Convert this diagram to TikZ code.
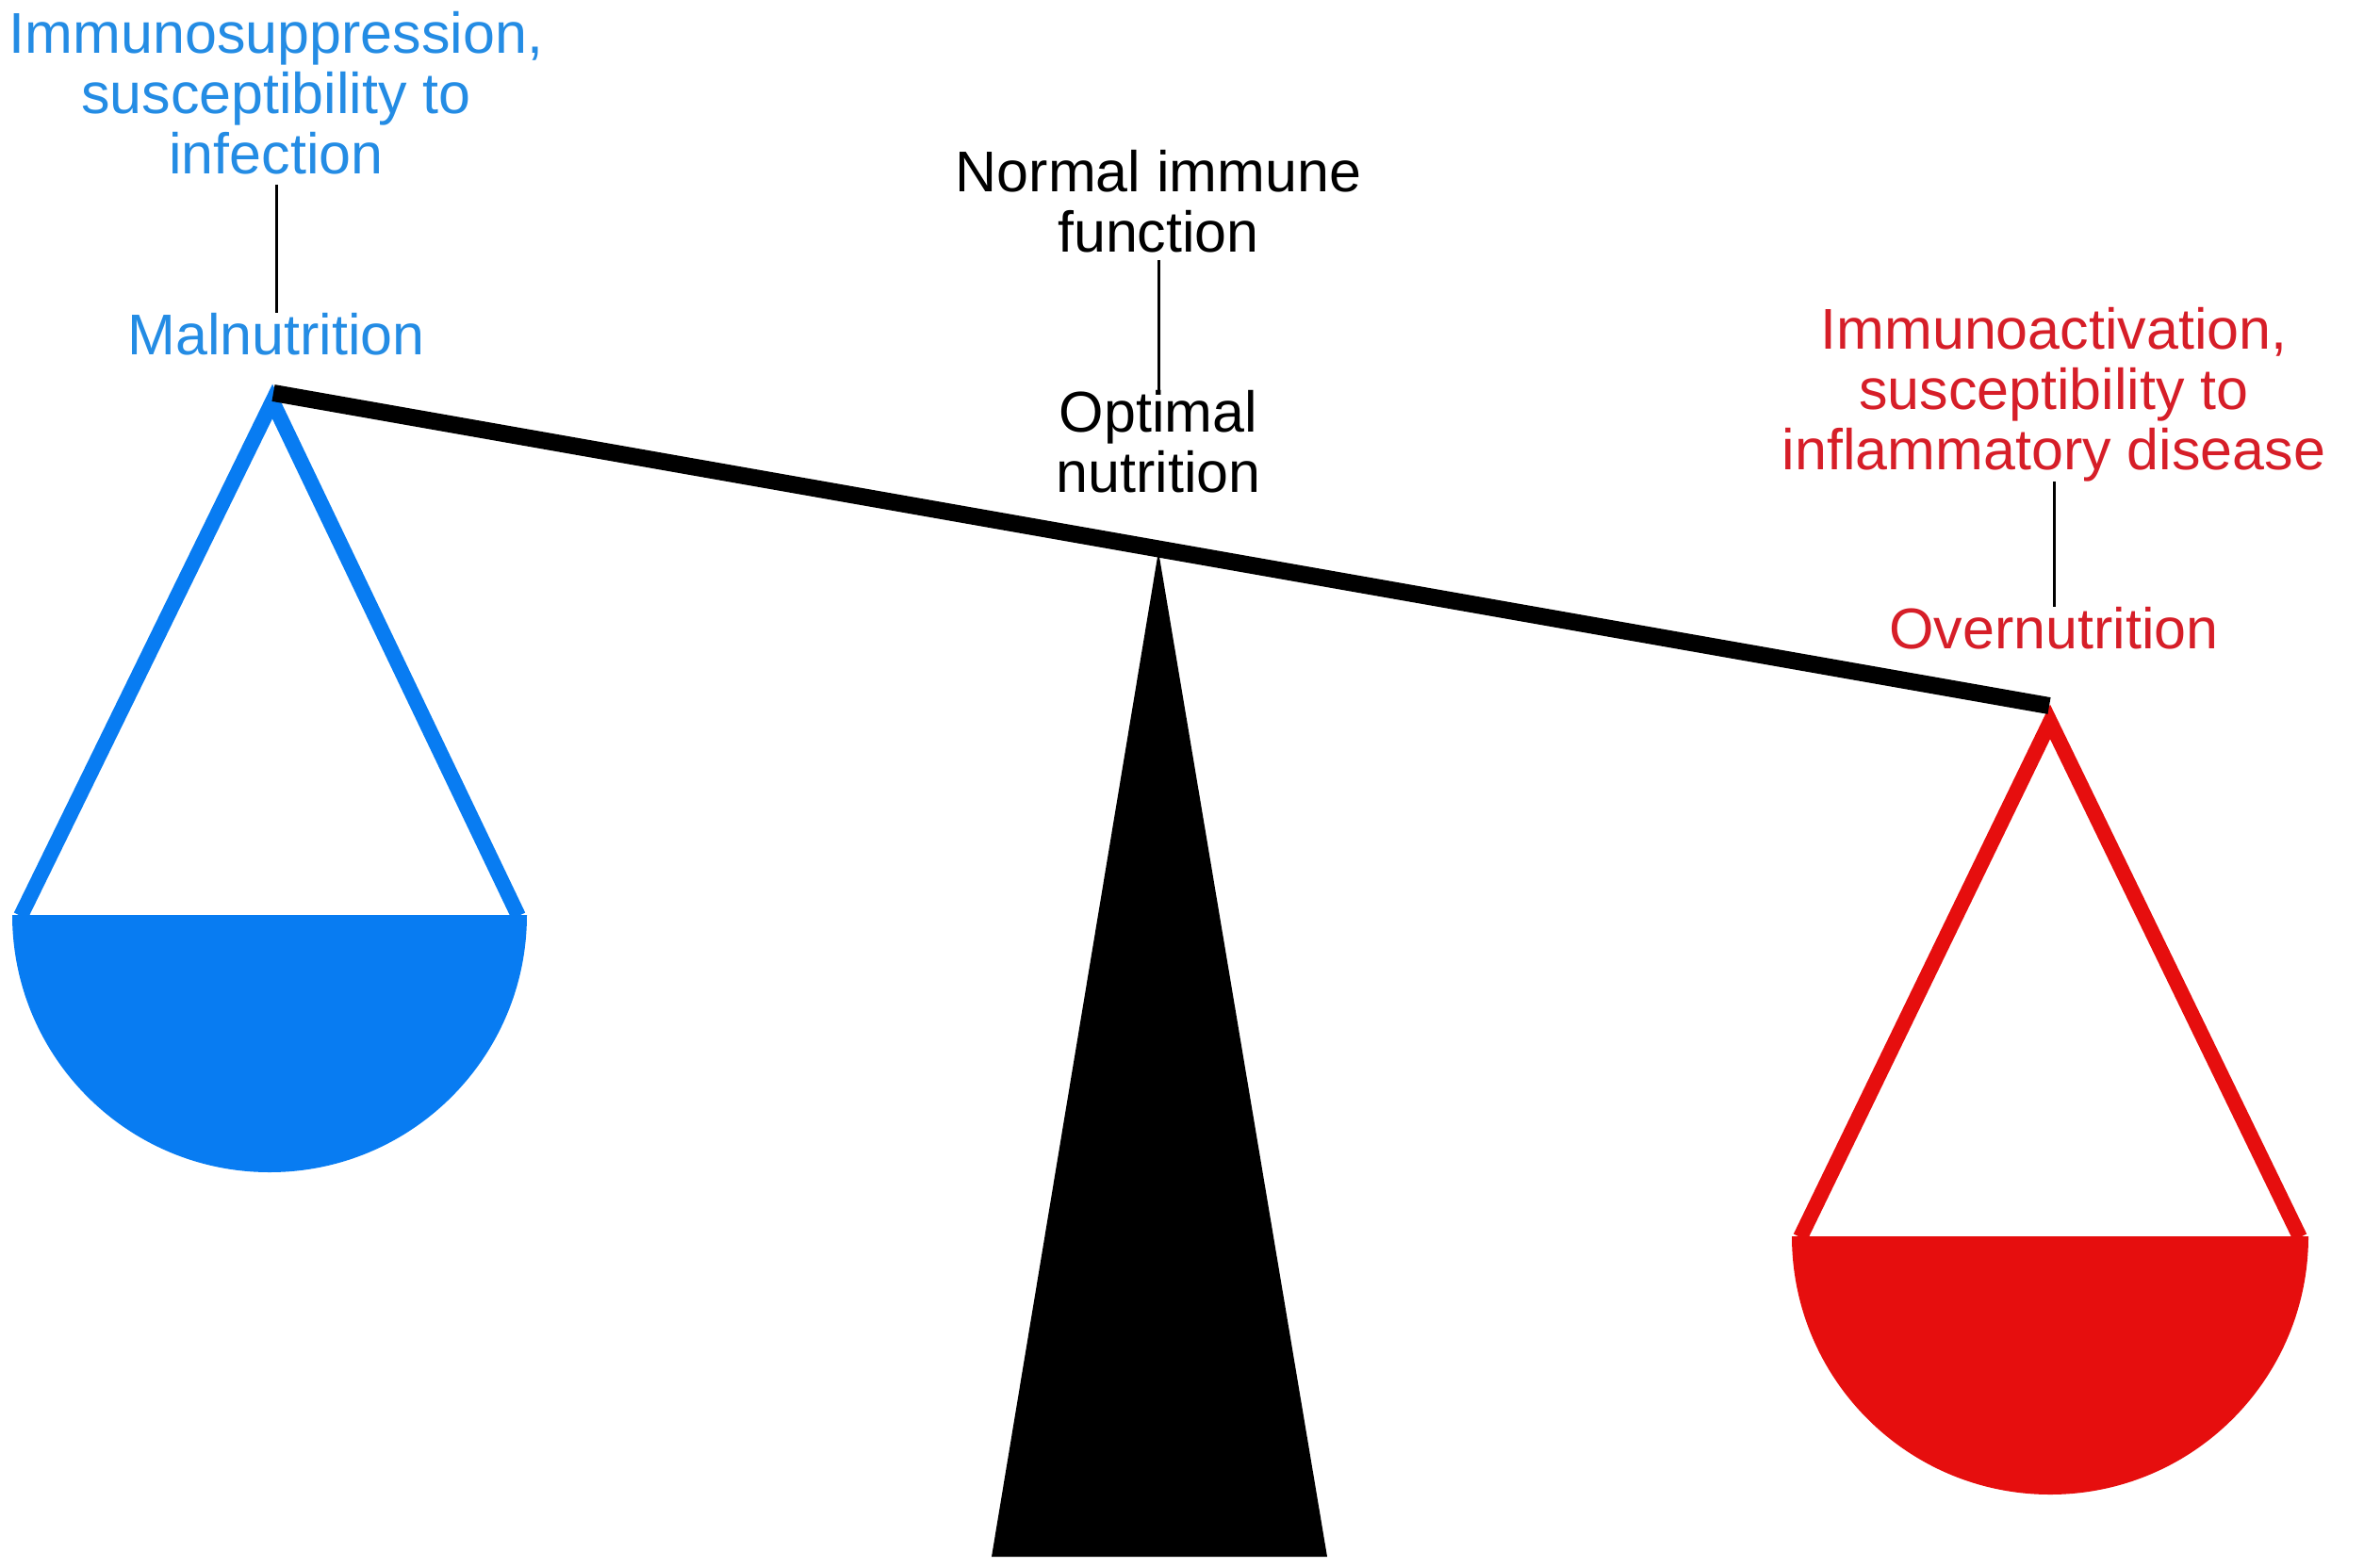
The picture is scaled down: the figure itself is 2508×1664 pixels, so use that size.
\documentclass[tikz,border=0pt]{standalone}
\usepackage{fontspec}
\setmainfont{Liberation Sans}
\definecolor{panblue}{RGB}{8,124,242}
\definecolor{panred}{RGB}{230,14,14}
\definecolor{txtblue}{RGB}{36,140,228}
\definecolor{txtred}{RGB}{214,30,40}
\begin{document}
\begin{tikzpicture}[x=1pt,y=-1pt,
  lbl/.style={inner sep=0pt,align=center,font=\fontsize{61}{64}\selectfont},
  conn/.style={draw=black,line width=3pt},
  leg/.style={line width=16pt,line join=miter,line cap=butt}]
\useasboundingbox (0,0) rectangle (2508,1664);
% key points
\coordinate (L) at (290,417);
\coordinate (R) at (2174,749);
\coordinate (LV) at (289,426);
\coordinate (RV) at (2175,766);
\coordinate (F) at (1229,585);
% fulcrum
\fill[black] (F) -- (1408,1652) -- (1052,1652) -- cycle;
% left pan
\draw[leg,panblue] (22,972) -- (LV) -- (550,972);
\fill[panblue] (13,971) arc[start angle=180,end angle=0,radius=273] -- cycle;
% right pan
\draw[leg,panred] (1910,1313) -- (RV) -- (2440,1313);
\fill[panred] (1901,1312) arc[start angle=180,end angle=0,radius=274] -- cycle;
% beam
\draw[line width=18pt] (L) -- (R);
% labels
\node[lbl,text=txtblue,anchor=base] (ls) at (293,185) {Immunosuppression,\\susceptibility to\\infection};
\node[lbl,text=txtblue,anchor=base] (lm) at (293,376) {Malnutrition};
\node[lbl,anchor=base] (cn) at (1229,267) {Normal immune\\function};
\node[lbl,anchor=base] (co) at (1229,522) {Optimal\\nutrition};
\node[lbl,text=txtred,anchor=base] (ra) at (2179,498) {Immunoactivation,\\susceptibility to\\inflammatory disease};
\node[lbl,text=txtred,anchor=base] (ro) at (2179,688) {Overnutrition};
% connectors
\draw[conn] ([yshift=-10pt]ls.south) -- (lm.north);
\draw[conn] ([yshift=-8pt]cn.south) -- (co.north);
\draw[conn] ([yshift=0pt]ra.south) -- (ro.north);
\end{tikzpicture}
\end{document}
